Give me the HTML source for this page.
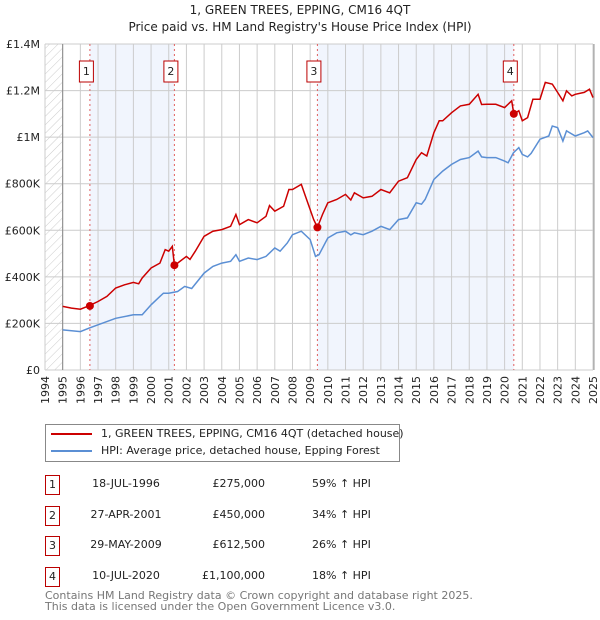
<!DOCTYPE html>
<html><head><meta charset="utf-8">
<style>
body{margin:0;background:#fff;font-family:"DejaVu Sans","Liberation Sans",sans-serif;}
#wrap{position:relative;width:600px;height:620px;overflow:hidden;}
svg text{font-family:"DejaVu Sans","Liberation Sans",sans-serif;}
</style></head>
<body>
<div id="wrap">
<svg id="chart" width="600" height="620">
<defs>
<pattern id="hatch" width="6" height="6" patternUnits="userSpaceOnUse" patternTransform="rotate(45)">
<line x1="0" y1="0" x2="0" y2="6" stroke="#ccc" stroke-width="1"/>
</pattern>
</defs>
<text x="300" y="14" text-anchor="middle" font-size="12" fill="#222">1, GREEN TREES, EPPING, CM16 4QT</text>
<text x="300" y="31" text-anchor="middle" font-size="12" fill="#222">Price paid vs. HM Land Registry's House Price Index (HPI)</text>
<g id="plot"></g>
</svg>
<div style="position:absolute;left:45px;top:424px;width:353px;height:36px;border:1px solid #888;">
 <div style="position:absolute;left:5px;top:8px;width:41px;border-top:2px solid #cc0000;"></div>
 <div style="position:absolute;left:55px;top:2px;font-size:11px;color:#222;white-space:nowrap;">1, GREEN TREES, EPPING, CM16 4QT (detached house)</div>
 <div style="position:absolute;left:5px;top:25px;width:41px;border-top:2px solid #5b8fd4;"></div>
 <div style="position:absolute;left:55px;top:19px;font-size:11px;color:#222;white-space:nowrap;">HPI: Average price, detached house, Epping Forest</div>
</div>
<div id="table"></div>
<div style="position:absolute;left:45px;top:590px;font-size:11px;color:#777;line-height:11px;">Contains HM Land Registry data © Crown copyright and database right 2025.<br>This data is licensed under the Open Government Licence v3.0.</div>
</div>
<script>
const yearTicks=[1994,1995,1996,1997,1998,1999,2000,2001,2002,2003,2004,2005,2006,2007,2008,2009,2010,2011,2012,2013,2014,2015,2016,2017,2018,2019,2020,2021,2022,2023,2024,2025];
const valueTicks=[0,200000,400000,600000,800000,1000000,1200000,1400000];
const valueTickLabels=["£0","£200K","£400K","£600K","£800K","£1M","£1.2M","£1.4M"];
const hpiYears=[1995,1996,1996.5,1997,1998,1999,1999.5,2000,2000.5,2000.7,2001,2001.5,2001.9,2002.3,2003,2003.5,2004,2004.5,2004.8,2005,2005.5,2006,2006.5,2007,2007.3,2007.7,2008,2008.5,2009,2009.3,2009.5,2010,2010.5,2011,2011.3,2011.5,2012,2012.5,2013,2013.5,2014,2014.5,2015,2015.3,2015.5,2016,2016.5,2017,2017.5,2018,2018.5,2018.7,2019,2019.5,2020,2020.2,2020.5,2020.8,2021,2021.3,2021.5,2022,2022.5,2022.7,2023,2023.3,2023.5,2024,2024.5,2024.7,2025];
const hpiValues=[172,165,180,194,222,237,237,280,316,330,330,337,359,350,416,445,459,467,495,467,481,474,488,524,510,545,581,596,560,488,495,567,589,596,580,589,581,596,617,603,646,653,718,712,732,818,854,883,904,912,940,915,912,912,897,890,933,955,926,915,930,991,1005,1048,1041,983,1027,1005,1019,1027,998];
const propYears=[1995,1995.5,1996,1996.5,1997,1997.5,1998,1998.5,1999,1999.3,1999.5,2000,2000.5,2000.8,2001,2001.2,2001.32,2001.5,2002,2002.2,2002.5,2003,2003.5,2004,2004.5,2004.8,2005,2005.5,2006,2006.5,2006.7,2007,2007.5,2007.8,2008,2008.5,2008.8,2009.2,2009.41,2009.7,2010,2010.5,2011,2011.3,2011.5,2012,2012.5,2013,2013.5,2014,2014.5,2015,2015.3,2015.6,2016,2016.3,2016.5,2017,2017.5,2018,2018.5,2018.7,2019,2019.5,2020,2020.4,2020.52,2020.8,2021,2021.3,2021.6,2022,2022.3,2022.7,2023,2023.3,2023.5,2023.8,2024,2024.5,2024.8,2025];
const propValues=[273,266,261,276,294,316,352,366,376,370,395,438,459,517,510,531,450,459,488,475,510,574,596,603,617,668,624,646,632,660,706,682,703,775,775,797,732,646,612.5,668,718,732,754,730,761,739,746,775,761,811,826,904,933,919,1019,1070,1070,1105,1134,1141,1184,1140,1141,1141,1127,1156,1100,1113,1070,1084,1163,1163,1235,1228,1192,1156,1199,1177,1184,1192,1206,1170];
const saleYears=[1996.54,2001.32,2009.41,2020.52];
const saleValues=[275000,450000,612500,1100000];
const saleLabels=["1","2","3","4"];
const saleDates=["18-JUL-1996","27-APR-2001","29-MAY-2009","10-JUL-2020"];
const salePrices=["£275,000","£450,000","£612,500","£1,100,000"];
const saleDeltas=["59% ↑ HPI","34% ↑ HPI","26% ↑ HPI","18% ↑ HPI"];

const X0=45,X1=593,Y0=370,Y1=44;
const xs=y=>X0+(y-1994)/(2025-1994)*(X1-X0);
const ys=v=>Y0-v/1400000*(Y0-Y1);
const NS="http://www.w3.org/2000/svg";
const g=document.getElementById('plot');
function mk(tag,attrs,parent){const e=document.createElementNS(NS,tag);for(const k in attrs)e.setAttribute(k,attrs[k]);(parent||g).appendChild(e);return e;}

for(let i=0;i<saleYears.length;i+=2){
 const b=mk('rect',{x:xs(saleYears[i]),y:Y1,width:xs(saleYears[i+1])-xs(saleYears[i]),height:Y0-Y1,fill:'#eef3fc',opacity:0.8});
 
 
}
const hz=mk('rect',{x:X0,y:Y1,width:xs(1995)-X0,height:Y0-Y1,fill:'url(#hatch)'});


yearTicks.forEach(yr=>{
 const l=mk('line',{x1:xs(yr),x2:xs(yr),y1:Y1,y2:Y0,stroke:'#ccc','stroke-width':1});
 
 
 const t=mk('text',{x:0,y:0,'font-size':11,fill:'#222','text-anchor':'end',transform:`translate(${xs(yr)+4},${Y0+6}) rotate(-90)`});
 t.textContent=yr;
 
 
});
valueTicks.forEach((v,i)=>{
 const l=mk('line',{x1:X0,x2:X1,y1:ys(v),y2:ys(v),stroke:'#ccc','stroke-width':1});
 
 
 const t=mk('text',{x:X0-5,y:ys(v)+4,'font-size':11,fill:'#222','text-anchor':'end'});
 t.textContent=valueTickLabels[i];
 
 
});
const ax=mk('line',{x1:xs(1995),x2:xs(1995),y1:Y1,y2:Y0,stroke:'#888','stroke-width':1});


const rb=mk('line',{x1:X1+1,x2:X1+1,y1:Y1,y2:Y0,stroke:'#999','stroke-width':1});


saleYears.forEach(yr=>{
 const l=mk('line',{x1:xs(yr),x2:xs(yr),y1:Y1,y2:Y0,stroke:'#e06060','stroke-width':1,'stroke-dasharray':'2,3'});
 
 
});
function path(xa,va){return xa.map((x,i)=>(i?'L':'M')+xs(x).toFixed(1)+','+ys(va[i]*1000).toFixed(1)).join('');}
const hp=mk('path',{d:path(hpiYears,hpiValues),fill:'none',stroke:'#5b8fd4','stroke-width':1.5});


const pp=mk('path',{d:path(propYears,propValues),fill:'none',stroke:'#cc0000','stroke-width':1.5});


saleYears.forEach((yr,i)=>{
 const c=mk('circle',{cx:xs(yr),cy:ys(saleValues[i]),r:4,fill:'#cc0000'});
 
 
 const bx=mk('rect',{x:xs(yr)-10.5,y:61,width:14,height:21,fill:'#fff',stroke:'#b00','stroke-width':1});
 
 
 const t=mk('text',{x:xs(yr)-3.5,y:75,'font-size':11,fill:'#222','text-anchor':'middle'});
 t.textContent=saleLabels[i];
 
 
});
const tb=document.getElementById('table');
saleLabels.forEach((lb,i)=>{
 const top=475+i*30.5;
 const row=document.createElement('div');
 
 
 row.style.cssText=`position:absolute;left:0;top:${top}px;width:600px;height:20px;font-size:11px;color:#222;`;
 row.innerHTML=`<div style="position:absolute;left:45px;top:0;width:13px;height:18px;border:1px solid #b00;text-align:center;line-height:17px;">${lb}</div>
 <div style="position:absolute;left:60px;width:132px;top:2px;text-align:center;">${saleDates[i]}</div>
 <div style="position:absolute;right:335px;top:2px;text-align:right;">${salePrices[i]}</div>
 <div style="position:absolute;left:312px;top:2px;">${saleDeltas[i]}</div>`;
 tb.appendChild(row);
});
</script>
</body></html>
